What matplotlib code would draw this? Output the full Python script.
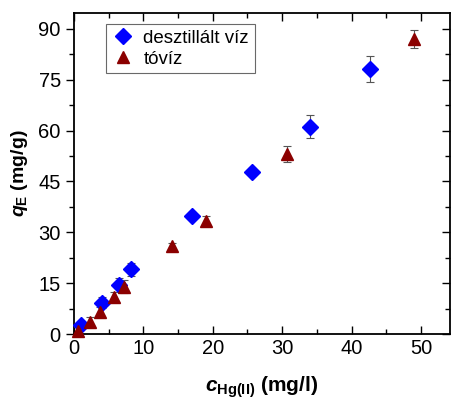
import matplotlib.pyplot as plt
from matplotlib.lines import Line2D
from matplotlib.ticker import MultipleLocator

plt.rcParams["font.family"] = ["Liberation Sans", "DejaVu Sans"]
plt.rcParams["mathtext.fontset"] = "custom"
plt.rcParams["mathtext.rm"] = "Liberation Sans:bold"
plt.rcParams["mathtext.bf"] = "Liberation Sans:bold"
plt.rcParams["mathtext.it"] = "Liberation Sans:bold:italic"

# distilled water series
dw_c = [1.0, 4.1, 6.5, 8.2, 17.0, 25.7, 34.0, 42.7]
dw_q = [2.6, 9.2, 14.4, 19.1, 34.9, 47.9, 61.2, 78.2]
dw_err = [0.8, 1.6, 2.0, 2.0, 1.0, 1.0, 3.5, 3.8]

# lake water series
lw_c = [0.6, 2.3, 3.7, 5.8, 7.2, 14.1, 19.0, 30.7, 49.0]
lw_q = [1.0, 3.6, 6.6, 11.0, 14.0, 26.0, 33.3, 53.1, 87.0]
lw_err = [1.0, 1.5, 1.5, 1.5, 2.0, 1.0, 1.5, 2.3, 2.6]

BLUE = "#0000ff"
RED = "#8b0000"

fig = plt.figure(figsize=(4.52, 4.01), dpi=100)
ax = fig.add_axes([0.1637, 0.167, 0.832, 0.8006])

ax.errorbar(dw_c, dw_q, yerr=dw_err, fmt="D", color=BLUE, ms=8.5,
            ecolor="#555555", elinewidth=0.8, capsize=3, capthick=0.8,
            zorder=3, clip_on=False)
ax.errorbar(lw_c, lw_q, yerr=lw_err, fmt="^", color=RED, ms=9,
            ecolor="#555555", elinewidth=0.8, capsize=3, capthick=0.8,
            zorder=3, clip_on=False)

ax.set_xlim(0, 54.2)
ax.set_ylim(0, 94.7)
ax.xaxis.set_major_locator(MultipleLocator(10))
ax.xaxis.set_minor_locator(MultipleLocator(5))
ax.yaxis.set_major_locator(MultipleLocator(15))
ax.yaxis.set_minor_locator(MultipleLocator(7.5))

ax.tick_params(axis="both", which="both", labelsize=14.5, width=1.0)
ax.tick_params(axis="x", which="both", direction="in", top=True)
ax.tick_params(axis="y", which="both", direction="out", left=True, right=True)
ax.tick_params(which="major", length=6)
ax.tick_params(which="minor", length=3.5)
for sp in ax.spines.values():
    sp.set_linewidth(1.3)

ax.set_xlabel(r"$c_{\mathrm{Hg(II)}}$ (mg/l)", fontsize=15, fontweight="bold", labelpad=12)
ax.set_ylabel(r"$q_{\mathrm{E}}$ (mg/g)", fontsize=14, fontweight="bold", labelpad=6)

handles = [
    Line2D([], [], ls="none", marker="D", color=BLUE, ms=8.5),
    Line2D([], [], ls="none", marker="^", color=RED, ms=9),
]
leg = ax.legend(handles, ["desztillált víz", "tóvíz"], loc="upper left",
                bbox_to_anchor=(0.085, 0.965), fontsize=13.5,
                frameon=True, fancybox=False, edgecolor="#444444",
                handlelength=1.2, handletextpad=0.5, borderpad=0.3,
                labelspacing=0.2, borderaxespad=0)
leg.get_frame().set_linewidth(0.8)

fig.canvas.draw()
# left ticks point outwards, right ticks inwards
for t in ax.yaxis.get_major_ticks() + ax.yaxis.get_minor_ticks():
    t.tick2line.set_marker(0)

plt.savefig("out.png", dpi=100)
